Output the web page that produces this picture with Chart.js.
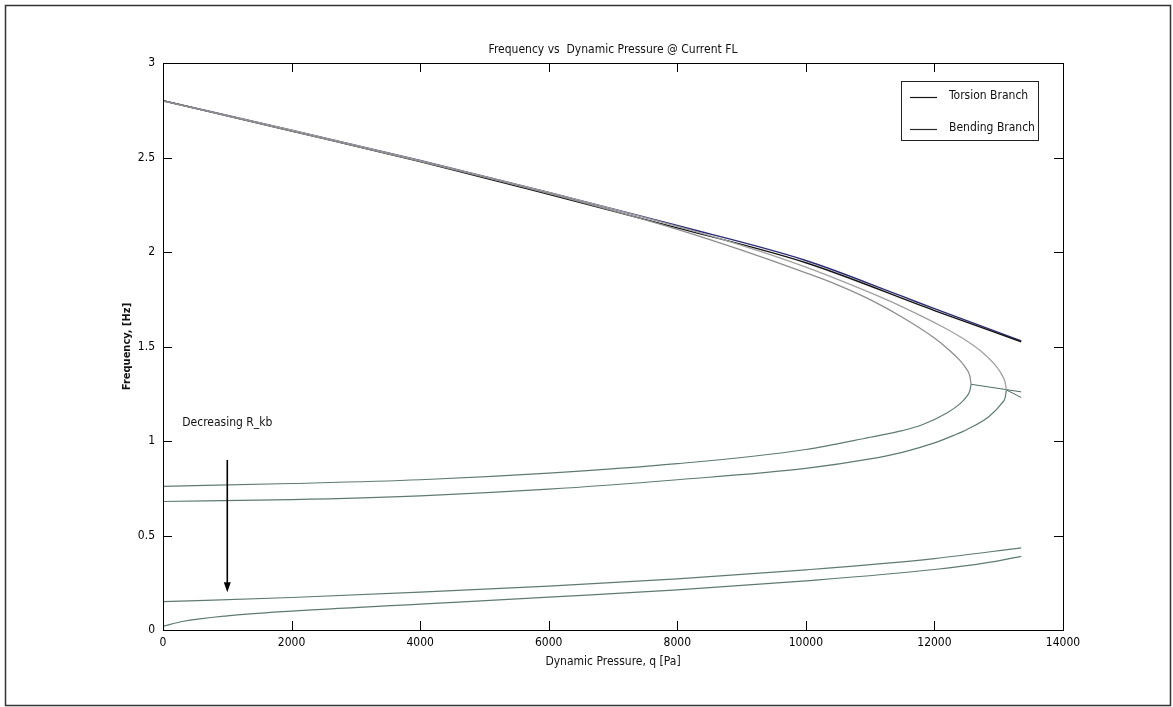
<!DOCTYPE html>
<html>
<head>
<meta charset="utf-8">
<title>Frequency vs Dynamic Pressure</title>
<script src="https://cdn.jsdelivr.net/npm/chart.js@4.4.1/dist/chart.umd.min.js"></script>
<style>
  body { margin: 0; background: #fff; }
  #chart { display: block; }
</style>
</head>
<body>
<canvas id="chart" width="1173" height="707"></canvas>
<script>
// axis ticks
var xTicks = [0, 2000, 4000, 6000, 8000, 10000, 12000, 14000];
var yTicks = [0, 0.5, 1, 1.5, 2, 2.5, 3];

// torsion branches, one per R_kb value (q in Pa, f in Hz)
var qTorsA = [0, 2000, 4000, 6000, 8000, 9000, 10000, 10500, 11000, 11500, 12000, 12200, 12400, 12500, 12550, 12570];
var fTorsA = [2.80, 2.64, 2.48, 2.31, 2.12, 2.01, 1.89, 1.825, 1.748, 1.655, 1.545, 1.49, 1.425, 1.38, 1.345, 1.30];
var qTorsB = [0, 2000, 4000, 6000, 8000, 9000, 10000, 11000, 11500, 12133, 12500, 12756, 12950, 13050, 13100, 13120];
var fTorsB = [2.80, 2.645, 2.483, 2.315, 2.135, 2.035, 1.92, 1.785, 1.71, 1.603, 1.53, 1.466, 1.40, 1.35, 1.31, 1.27];
var qTorsC = [0, 2000, 4000, 6000, 8000, 10000, 11464, 12000, 13350];
var fTorsC = [2.80, 2.645, 2.485, 2.315, 2.14, 1.955, 1.77, 1.70, 1.53];
var qTorsD = [0, 2000, 4000, 6000, 8000, 10000, 12000, 13350];
var fTorsD = [2.80, 2.64, 2.478, 2.305, 2.128, 1.943, 1.69, 1.525];

// bending branches
var qBendA = [0, 2000, 4000, 6000, 8000, 10000, 11000, 11500, 11800, 12200, 12400, 12500, 12550, 12570];
var fBendA = [0.76, 0.775, 0.795, 0.83, 0.88, 0.955, 1.02, 1.055, 1.085, 1.15, 1.198, 1.235, 1.265, 1.30];
var qBendB = [0, 2000, 4000, 6000, 8000, 10000, 11000, 11500, 12000, 12300, 12500, 12850, 13050, 13100, 13120];
var fBendB = [0.68, 0.69, 0.71, 0.745, 0.795, 0.855, 0.905, 0.94, 0.99, 1.03, 1.06, 1.13, 1.20, 1.23, 1.27];
var qBendC = [0, 2000, 4000, 6000, 8000, 10000, 12000, 13350];
var fBendC = [0.15, 0.172, 0.20, 0.232, 0.27, 0.318, 0.378, 0.435];
var qBendD = [0, 300, 1000, 2000, 4000, 6000, 8000, 10000, 12000, 12800, 13350];
var fBendD = [0.02, 0.045, 0.075, 0.10, 0.137, 0.174, 0.212, 0.26, 0.32, 0.355, 0.39];

// coupled (flutter) part after the branches meet
var qFlutA = [12570, 13350];
var fFlutA = [1.30, 1.26];
var qFlutB = [13120, 13350];
var fFlutB = [1.27, 1.23];

// arrow for the R_kb trend
var arrowQ = 1000;
var arrowF = [0.9, 0.2];

var legendLabels = ['Torsion Branch', 'Bending Branch'];

var FONT = "'Liberation Sans Narrow', 'DejaVu Sans Condensed', 'Liberation Sans', sans-serif";

function pts(qs, fs) {
  var out = [];
  for (var i = 0; i < qs.length; i++) out.push({x: qs[i], y: fs[i]});
  return out;
}

function line(qs, fs, color, width) {
  return {
    data: pts(qs, fs),
    showLine: true,
    borderColor: color,
    borderWidth: width,
    pointRadius: 0,
    cubicInterpolationMode: 'monotone',
    fill: false
  };
}

var datasets = [
  line(qTorsA, fTorsA, '#8e8e8e', 1.3),
  line(qTorsB, fTorsB, '#a0a0a0', 1.3),
  line(qBendA, fBendA, '#5f7a74', 1.2),
  line(qBendB, fBendB, '#5f7a74', 1.2),
  line(qBendC, fBendC, '#5f7a74', 1.2),
  line(qBendD, fBendD, '#5f7a74', 1.2),
  line(qFlutA, fFlutA, '#4f6a64', 1),
  line(qFlutB, fFlutB, '#4f6a64', 1),
  line(qTorsD, fTorsD, '#151515', 1.4),
  line(qTorsC, fTorsC, '#2c2c78', 1.4)
];

// frame, axis box, inward ticks, titles, legend, arrow
var decor = {
  id: 'decor',
  beforeDraw: function(chart) {
    var c = chart.ctx;
    c.save();
    c.fillStyle = '#fff';
    c.fillRect(0, 0, chart.width, chart.height);
    c.strokeStyle = '#333';
    c.lineWidth = 1.5;
    c.strokeRect(5.5, 5.5, 1165, 700);
    c.restore();
  },
  afterDatasetsDraw: function(chart) {
    var c = chart.ctx;
    var a = chart.chartArea;
    var xs = chart.scales.x, ys = chart.scales.y;
    c.save();
    c.strokeStyle = '#000';
    c.lineWidth = 1;
    c.strokeRect(a.left + 0.5, a.top + 0.5, a.right - a.left, a.bottom - a.top);

    var tl = 9;
    c.beginPath();
    xTicks.forEach(function(v) {
      var px = Math.round(xs.getPixelForValue(v)) + 0.5;
      c.moveTo(px, a.bottom); c.lineTo(px, a.bottom - tl);
      c.moveTo(px, a.top); c.lineTo(px, a.top + tl);
    });
    yTicks.forEach(function(v) {
      var py = Math.round(ys.getPixelForValue(v)) + 0.5;
      c.moveTo(a.left, py); c.lineTo(a.left + tl, py);
      c.moveTo(a.right, py); c.lineTo(a.right - tl, py);
    });
    c.stroke();

    // arrow
    var ax = xs.getPixelForValue(arrowQ);
    var ay0 = ys.getPixelForValue(arrowF[0]);
    var ay1 = ys.getPixelForValue(arrowF[1]);
    c.lineWidth = 1.6;
    c.beginPath();
    c.moveTo(ax, ay0); c.lineTo(ax, ay1 - 8);
    c.stroke();
    c.fillStyle = '#000';
    c.beginPath();
    c.moveTo(ax - 3.5, ay1 - 10);
    c.lineTo(ax + 3.5, ay1 - 10);
    c.lineTo(ax, ay1);
    c.closePath();
    c.fill();

    // text
    c.fillStyle = '#111';
    c.font = '12px ' + FONT;
    c.textBaseline = 'middle';
    c.textAlign = 'left';
    c.fillText('Decreasing R_kb', xs.getPixelForValue(300), ys.getPixelForValue(1.095));

    c.textAlign = 'center';
    var cx = (a.left + a.right) / 2;
    c.fillText('Frequency vs  Dynamic Pressure @ Current FL', cx, 50);
    c.fillText('Dynamic Pressure, q [Pa]', cx, 662);

    c.save();
    c.translate(127, (a.top + a.bottom) / 2);
    c.rotate(-Math.PI / 2);
    c.font = 'bold 11px ' + FONT;
    c.fillText('Frequency, [Hz]', 0, 0);
    c.restore();

    // legend
    c.fillStyle = '#fff';
    c.fillRect(901, 81, 137, 59);
    c.strokeStyle = '#222';
    c.lineWidth = 1;
    c.strokeRect(901.5, 81.5, 137, 59);
    var legendColors = ['#151515', '#2a2a2a'];
    var rows = [96, 128];
    c.textAlign = 'left';
    c.fillStyle = '#111';
    legendLabels.forEach(function(lbl, i) {
      c.strokeStyle = legendColors[i];
      c.lineWidth = 1.2;
      c.beginPath();
      c.moveTo(910, rows[i] + 1.5); c.lineTo(937, rows[i] + 1.5);
      c.stroke();
      c.fillText(lbl, 949, rows[i]);
    });
    c.restore();
  }
};

var ctx = document.getElementById('chart');
var myChart = new Chart(ctx, {
  type: 'scatter',
  data: { datasets: datasets },
  options: {
    responsive: false,
    animation: false,
    layout: { padding: { left: 103, top: 63, right: 110, bottom: 27 } },
    scales: {
      x: {
        type: 'linear', min: 0, max: 14000,
        afterBuildTicks: function(s) { s.ticks = xTicks.map(function(v) { return {value: v}; }); },
        afterFit: function(s) { s.height = 50; },
        grid: { display: false, drawTicks: false },
        border: { display: false },
        ticks: { color: '#000', padding: 6, maxRotation: 0, font: { family: FONT, size: 12 },
          callback: function(v) { return String(v); } }
      },
      y: {
        type: 'linear', min: 0, max: 3,
        afterBuildTicks: function(s) { s.ticks = yTicks.map(function(v) { return {value: v}; }); },
        afterFit: function(s) { s.width = 60; },
        grid: { display: false, drawTicks: false },
        border: { display: false },
        ticks: { color: '#000', padding: 8, font: { family: FONT, size: 12 },
          callback: function(v) { return String(v); } }
      }
    },
    plugins: {
      legend: { display: false },
      tooltip: { enabled: false },
      title: { display: false }
    }
  },
  plugins: [decor]
});
</script>
</body>
</html>
